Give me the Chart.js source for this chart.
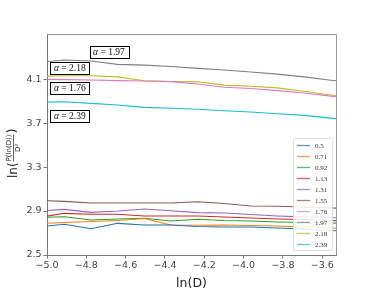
<!DOCTYPE html>
<html>
<head>
<meta charset="utf-8">
<script src="https://cdn.jsdelivr.net/npm/chart.js@4/dist/chart.umd.min.js"></script>
<style>
  html, body { margin: 0; padding: 0; background: #fff; }
  #wrap { width: 374px; height: 291px; position: relative; }
</style>
</head>
<body>
<div id="wrap"><canvas id="chart" width="374" height="291"></canvas></div>
<script>
// ln(D) sample points (last ones run past the right edge and get clipped)
const lnD = [-5.048, -4.912, -4.776, -4.641, -4.505, -4.370, -4.234, -4.099, -3.963, -3.828, -3.692, -3.556, -3.421];

const alphas = ["0.5", "0.71", "0.92", "1.13", "1.31", "1.55", "1.76", "1.97", "2.18", "2.39"];
const colors = ["#1f77b4", "#ff7f0e", "#2ca02c", "#d62728", "#9467bd", "#8c564b", "#e377c2", "#7f7f7f", "#bcbd22", "#17becf"];

const s050 = [2.755, 2.779, 2.739, 2.788, 2.773, 2.773, 2.759, 2.755, 2.755, 2.745, 2.736, 2.723, 2.709];
const s071 = [2.785, 2.795, 2.805, 2.814, 2.832, 2.773, 2.770, 2.773, 2.768, 2.764, 2.755, 2.745, 2.736];
const s092 = [2.840, 2.848, 2.818, 2.827, 2.834, 2.809, 2.825, 2.814, 2.809, 2.800, 2.795, 2.791, 2.786];
const s113 = [2.840, 2.879, 2.870, 2.870, 2.855, 2.855, 2.855, 2.845, 2.836, 2.827, 2.823, 2.814, 2.805];
const s131 = [2.900, 2.915, 2.888, 2.900, 2.918, 2.903, 2.885, 2.882, 2.868, 2.855, 2.847, 2.841, 2.832];
const s155 = [2.996, 2.988, 2.973, 2.973, 2.973, 2.973, 2.984, 2.968, 2.945, 2.943, 2.936, 2.927, 2.923];
const s176 = [4.098, 4.095, 4.091, 4.086, 4.082, 4.077, 4.055, 4.025, 4.014, 3.995, 3.973, 3.945, 3.918];
const s197 = [4.250, 4.273, 4.264, 4.234, 4.227, 4.215, 4.197, 4.182, 4.165, 4.145, 4.120, 4.090, 4.065];
const s218 = [4.125, 4.130, 4.130, 4.120, 4.085, 4.078, 4.075, 4.045, 4.035, 4.020, 3.990, 3.955, 3.920];
const s239 = [3.888, 3.894, 3.879, 3.864, 3.843, 3.835, 3.826, 3.812, 3.800, 3.785, 3.770, 3.745, 3.720];

const series = [s050, s071, s092, s113, s131, s155, s176, s197, s218, s239];

const xTicks = [-5.0, -4.8, -4.6, -4.4, -4.2, -4.0, -3.8, -3.6];
const yTicks = [2.5, 2.9, 3.3, 3.7, 4.1];

// boxed alpha labels (centre in data coords)
const boxTexts = ["1.97", "2.18", "1.76", "2.39"];
const boxX = [-4.685, -4.884, -4.884, -4.884];
const boxY = [4.342, 4.200, 4.018, 3.764];

const fmt = v => v.toFixed(1).replace("-", "\u2212");

const frame = {
  id: "frame",
  afterDatasetsDraw(chart) {
    const { ctx, chartArea: a, scales } = chart;
    ctx.save();
    // top / right spines
    ctx.strokeStyle = "#999";
    ctx.lineWidth = 1;
    ctx.beginPath();
    ctx.moveTo(a.left, a.top + 0.5);
    ctx.lineTo(a.right + 0.5, a.top + 0.5);
    ctx.lineTo(a.right + 0.5, a.bottom);
    ctx.stroke();

    // alpha boxes
    ctx.font = "9.5px 'Liberation Serif'";
    ctx.textBaseline = "middle";
    boxTexts.forEach((t, i) => {
      const cx = scales.x.getPixelForValue(boxX[i]);
      const cy = scales.y.getPixelForValue(boxY[i]);
      const wA = ctx.measureText("\u03b1").width;
      ctx.font = "9.5px 'Liberation Serif'";
      const rest = " = " + t;
      const w = wA + ctx.measureText(rest).width;
      const bw = w + 7, bh = 12;
      ctx.fillStyle = "#fff";
      ctx.fillRect(Math.round(cx - bw / 2) + 0.5, Math.round(cy - bh / 2) + 0.5, Math.round(bw), bh);
      ctx.strokeStyle = "#000";
      ctx.strokeRect(Math.round(cx - bw / 2) + 0.5, Math.round(cy - bh / 2) + 0.5, Math.round(bw), bh);
      ctx.fillStyle = "#111";
      ctx.textAlign = "left";
      ctx.font = "italic 9.5px 'Liberation Serif'";
      ctx.fillText("\u03b1", cx - w / 2, cy + 0.5);
      ctx.font = "9.5px 'Liberation Serif'";
      ctx.fillText(rest, cx - w / 2 + wA, cy + 0.5);
    });

    // legend
    const lx = a.right - 43, ly = a.bottom - 117;
    ctx.fillStyle = "rgba(255,255,255,0.85)";
    ctx.strokeStyle = "#ddd";
    ctx.beginPath();
    ctx.roundRect(lx + 0.5, ly + 0.5, 39, 112, 2);
    ctx.fill();
    ctx.stroke();
    ctx.font = "7px 'Liberation Serif'";
    ctx.textAlign = "left";
    alphas.forEach((lab, i) => {
      const y = ly + 7.5 + i * 11;
      ctx.strokeStyle = colors[i];
      ctx.globalAlpha = 0.75;
      ctx.lineWidth = 1.3;
      ctx.beginPath();
      ctx.moveTo(lx + 4, y);
      ctx.lineTo(lx + 17, y);
      ctx.stroke();
      ctx.globalAlpha = 1;
      ctx.fillStyle = "#333";
      ctx.fillText(lab, lx + 22, y + 0.5);
    });

    // y axis title: ln( P(ln(D)) / D^3 )
    ctx.translate(13, 178);
    ctx.rotate(-Math.PI / 2);
    ctx.fillStyle = "#222";
    ctx.textBaseline = "middle";
    ctx.font = "12px 'DejaVu Sans'";
    ctx.fillText("ln(", 0, 1);
    let x0 = ctx.measureText("ln(").width + 1;
    ctx.font = "7px 'DejaVu Sans'";
    const num = "P(ln(D))";
    const nw = ctx.measureText(num).width;
    ctx.textAlign = "center";
    ctx.fillText(num, x0 + nw / 2, -3.5);
    ctx.fillText("D\u00b3", x0 + nw / 2, 5);
    ctx.strokeStyle = "#222";
    ctx.lineWidth = 0.7;
    ctx.beginPath();
    ctx.moveTo(x0, 0.5);
    ctx.lineTo(x0 + nw, 0.5);
    ctx.stroke();
    ctx.textAlign = "left";
    ctx.font = "13px 'DejaVu Sans'";
    ctx.fillText(")", x0 + nw + 1, 0);
    ctx.restore();
  }
};

new Chart(document.getElementById("chart"), {
  type: "line",
  data: {
    datasets: series.map((s, i) => ({
      label: alphas[i],
      data: s.map((v, j) => ({ x: lnD[j], y: v })),
      borderColor: colors[i],
      borderWidth: 1.1,
      pointRadius: 0,
      tension: 0,
      fill: false
    }))
  },
  options: {
    responsive: false,
    animation: false,
    events: [],
    layout: { padding: { top: 34, right: 38, left: 0, bottom: 0 } },
    plugins: { legend: { display: false }, tooltip: { enabled: false } },
    scales: {
      x: {
        type: "linear",
        min: -5.0,
        max: -3.53,
        afterBuildTicks: s => { s.ticks = xTicks.map(v => ({ value: v })); },
        afterFit: s => { s.height = 36; },
        grid: { drawOnChartArea: false, drawTicks: true, tickLength: 3.5, color: "#777" },
        border: { color: "#777" },
        ticks: {
          callback: v => fmt(v),
          font: { family: "'DejaVu Sans'", size: 9.5 },
          color: "#444",
          padding: 1,
          maxRotation: 0,
          autoSkip: false
        },
        title: {
          display: true,
          text: "ln(D)",
          font: { family: "'DejaVu Sans'", size: 12.5 },
          color: "#222",
          padding: { top: 0, bottom: 0 }
        }
      },
      y: {
        min: 2.5,
        max: 4.51,
        afterBuildTicks: s => { s.ticks = yTicks.map(v => ({ value: v })); },
        afterFit: s => { s.width = 47; },
        grid: { drawOnChartArea: false, drawTicks: true, tickLength: 3.5, color: "#777" },
        border: { color: "#777" },
        ticks: {
          callback: v => fmt(v),
          font: { family: "'DejaVu Sans'", size: 9.5 },
          color: "#444",
          padding: 2
        }
      }
    }
  },
  plugins: [frame]
});
</script>
</body>
</html>
